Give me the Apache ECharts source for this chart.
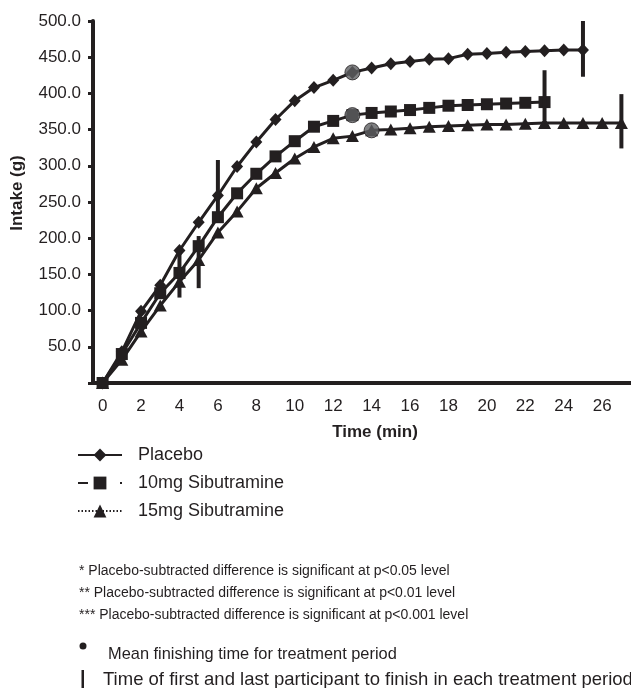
<!DOCTYPE html>
<html><head><meta charset="utf-8">
<script src="https://cdn.jsdelivr.net/npm/echarts@6/dist/echarts.min.js"></script>
<style>html,body{margin:0;padding:0;background:#fff;overflow:hidden}#c{width:631px;height:688px}</style>
</head><body><div id="c"></div>
<script>
// ---- data ----
const minutes = [0,1,2,3,4,5,6,7,8,9,10,11,12,13,14,15,16,17,18,19,20,21,22,23,24,25,26,27];
const yTickValues = [0,50,100,150,200,250,300,350,400,450,500];
const seriesNames = ['Placebo','10mg Sibutramine','15mg Sibutramine'];
const placebo = [0,43,99,135,183,222,259,299,333,364,390,408,418,429,435,441,444,447,448,454,455,457,458,459,460,460];
const sib10   = [0,40,83,124,152,189,229,262,289,313,334,354,362,370,373,375,377,380,383,384,385,386,387,388];
const sib15   = [0,32,71,107,140,170,208,237,269,290,310,326,338,341,349,350,352,354,355,356,357,357,358,359,359,359,359,359];
// mean finishing time markers (minute, intake)
const meanMinute = [13,13,14];
const meanIntake = [429,370,349];
// first / last finisher markers (minute, low, high)
const rangeMinute = [6,25,4,23,5,27];
const rangeLow    = [222,423,118,363,131,324];
const rangeHigh   = [308,500,187,432,203,399];
const footnotes = [
  '* Placebo-subtracted difference is significant at p<0.05 level',
  '** Placebo-subtracted difference is significant at p<0.01 level',
  '*** Placebo-subtracted difference is significant at p<0.001 level'
];
const meanNote = 'Mean finishing time for treatment period';
const rangeNote = 'Time of first and last participant to finish in each treatment period';

// ---- chart ----
const INK = '#231f20';
const FONT = 'Liberation Sans, Arial, Helvetica, sans-serif';
const chart = echarts.init(document.getElementById('c'), null, {renderer:'canvas'});
const markerCommon = {type:'line', showAllSymbol:true, animation:false,
  lineStyle:{color:INK,width:3}, itemStyle:{color:INK}};
chart.setOption({
  animation:false,
  backgroundColor:'#fff',
  textStyle:{fontFamily:FONT, color:INK},
  grid:{left:93, width:547, top:21, bottom:305, containLabel:false},
  xAxis:{type:'category', data:minutes.map(String), boundaryGap:true,
    axisLine:{lineStyle:{color:INK,width:4}},
    axisTick:{interval:0,length:3,lineStyle:{color:INK,width:3}},
    axisLabel:{interval:1,fontSize:17,color:INK,margin:15,fontFamily:FONT},
    splitLine:{show:false}},
  yAxis:{type:'value', min:yTickValues[0], max:yTickValues[yTickValues.length-1], interval:50,
    axisLine:{show:true,lineStyle:{color:INK,width:4}},
    axisTick:{show:true,length:5,lineStyle:{color:INK,width:3}},
    axisLabel:{fontSize:17,color:INK,margin:12,fontFamily:FONT,
      formatter:v=>v===0?'':v.toFixed(1)},
    splitLine:{show:false}},
  legend:{orient:'vertical', left:77, top:446, padding:0, itemWidth:44, itemHeight:16, itemGap:10,
    textStyle:{fontSize:18,color:INK,fontFamily:FONT,padding:[0,0,0,11]},
    lineStyle:{width:2,color:INK},
    data:[{name:seriesNames[0]},
          {name:seriesNames[1], lineStyle:{type:[10,32]}},
          {name:seriesNames[2], lineStyle:{type:[1.5,2]}}]},
  series:[
    Object.assign({}, markerCommon, {name:seriesNames[0], data:placebo, symbol:'diamond', symbolSize:[12,13], z:2}),
    Object.assign({}, markerCommon, {name:seriesNames[2], data:sib15, symbol:'triangle', symbolSize:[13,12], z:3}),
    Object.assign({}, markerCommon, {name:seriesNames[1], data:sib10, symbol:'rect', symbolSize:12, z:4}),
    {type:'scatter', name:'mean', data:meanMinute.map((m,i)=>[m,meanIntake[i]]), symbol:'circle', symbolSize:15,
      itemStyle:{color:'#5e5f61',borderColor:INK,borderWidth:1}, z:6, silent:true},
    {type:'custom', name:'range', z:5, silent:true, clip:false,
      data:rangeMinute.map((m,i)=>[m,rangeLow[i],rangeHigh[i]]),
      renderItem:(params,api)=>{
        const a = api.coord([api.value(0), api.value(1)]);
        const b = api.coord([api.value(0), api.value(2)]);
        return {type:'line', shape:{x1:a[0],y1:a[1],x2:b[0],y2:b[1]}, style:{stroke:INK,lineWidth:4}};
      }}
  ],
  graphic:[
    {type:'text', x:17, y:193, rotation:Math.PI/2, style:{text:'Intake (g)', fontSize:17, fontWeight:'bold', fontFamily:FONT, fill:INK, align:'center', verticalAlign:'middle'}},
    {type:'text', x:375, y:432, style:{text:'Time (min)', fontSize:17, fontWeight:'bold', fontFamily:FONT, fill:INK, align:'center', verticalAlign:'middle'}},
    {type:'text', x:79, y:571, style:{text:footnotes[0], fontSize:14, fontFamily:FONT, fill:INK, verticalAlign:'middle'}},
    {type:'text', x:79, y:593, style:{text:footnotes[1], fontSize:14, fontFamily:FONT, fill:INK, verticalAlign:'middle'}},
    {type:'text', x:79, y:615, style:{text:footnotes[2], fontSize:14, fontFamily:FONT, fill:INK, verticalAlign:'middle'}},
    {type:'circle', shape:{cx:83, cy:646, r:3.5}, style:{fill:INK}},
    {type:'text', x:108, y:654, style:{text:meanNote, fontSize:16.4, fontFamily:FONT, fill:INK, verticalAlign:'middle'}},
    {type:'rect', shape:{x:81.5, y:670, width:2.5, height:18}, style:{fill:INK}},
    {type:'text', x:103, y:680, style:{text:rangeNote, fontSize:18.5, fontFamily:FONT, fill:INK, verticalAlign:'middle'}}
  ]
});
</script></body></html>
